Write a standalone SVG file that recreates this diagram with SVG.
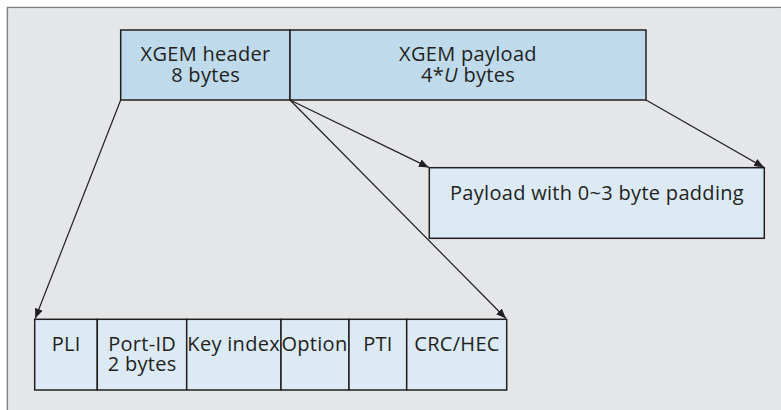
<svg xmlns="http://www.w3.org/2000/svg" width="781" height="410" viewBox="0 0 781 410">
<defs>
<style>
.t{font-family:"Open Sans","Liberation Sans",sans-serif;font-size:20px;letter-spacing:0.3px;fill:#231f20;text-anchor:middle}
.box{stroke:#231f20;stroke-width:1.5}
.hdr{fill:#bfdaeb}
.lt{fill:#dbeaf4}
.c{stroke:#231f20;stroke-width:1.2;fill:none;marker-end:url(#ah)}
</style>
<marker id="ah" viewBox="0 0 10 8" refX="10" refY="4" markerWidth="10" markerHeight="8" markerUnits="userSpaceOnUse" orient="auto">
<path d="M0,0 L10,4 L0,8 Z" fill="#231f20"/>
</marker>
</defs>
<rect x="0" y="0" width="781" height="410" fill="#ffffff"/>
<path d="M7.5,410 V7.5 H781" fill="#e5e6e8" stroke="#808080" stroke-width="1.6"/>
<rect x="8.3" y="8.3" width="773" height="402" fill="#e5e6e8"/>
<g id="xgem-header">
<rect class="box hdr" x="120.7" y="30" width="169.3" height="70"/>
<text class="t" x="205.6" y="61">XGEM header<tspan x="205.6" dy="20.7">8 bytes</tspan></text>
</g>
<g id="xgem-payload">
<rect class="box hdr" x="290" y="30" width="356" height="70"/>
<text class="t" x="468" y="61">XGEM payload<tspan x="468" dy="20.7">4*<tspan font-style="italic">U</tspan> bytes</tspan></text>
</g>
<g id="payload-padding">
<rect class="box lt" x="429.3" y="167.7" width="335" height="70.6"/>
<text class="t" x="597" y="200" letter-spacing="0.6">Payload with 0~3 byte padding</text>
</g>
<g id="pli">
<rect class="box lt" x="34.7" y="319.3" width="62.6" height="70.7"/>
<text class="t" x="66.2" y="350.7">PLI</text>
</g>
<g id="port-id">
<rect class="box lt" x="97.3" y="319.3" width="89.4" height="70.7"/>
<text class="t" x="142.2" y="350.7">Port-ID<tspan x="142.2" dy="20">2 bytes</tspan></text>
</g>
<g id="key-index">
<rect class="box lt" x="186.7" y="319.3" width="94.3" height="70.7"/>
<text class="t" x="233.7" y="350.7" letter-spacing="0">Key index</text>
</g>
<g id="option">
<rect class="box lt" x="281" y="319.3" width="68" height="70.7"/>
<text class="t" x="314.5" y="350.7" letter-spacing="0">Option</text>
</g>
<g id="pti">
<rect class="box lt" x="349" y="319.3" width="57.7" height="70.7"/>
<text class="t" x="378" y="350.7">PTI</text>
</g>
<g id="crc-hec">
<rect class="box lt" x="406.7" y="319.3" width="100" height="70.7"/>
<text class="t" x="457" y="350.7">CRC/HEC</text>
</g>
<g id="connectors">
<line class="c" x1="120.7" y1="100" x2="35.2" y2="318.5"/>
<line class="c" x1="290" y1="100" x2="506" y2="318.5"/>
<line class="c" x1="290" y1="100" x2="428.8" y2="167.4"/>
<line class="c" x1="646" y1="100" x2="764" y2="167.4"/>
</g>
</svg>
